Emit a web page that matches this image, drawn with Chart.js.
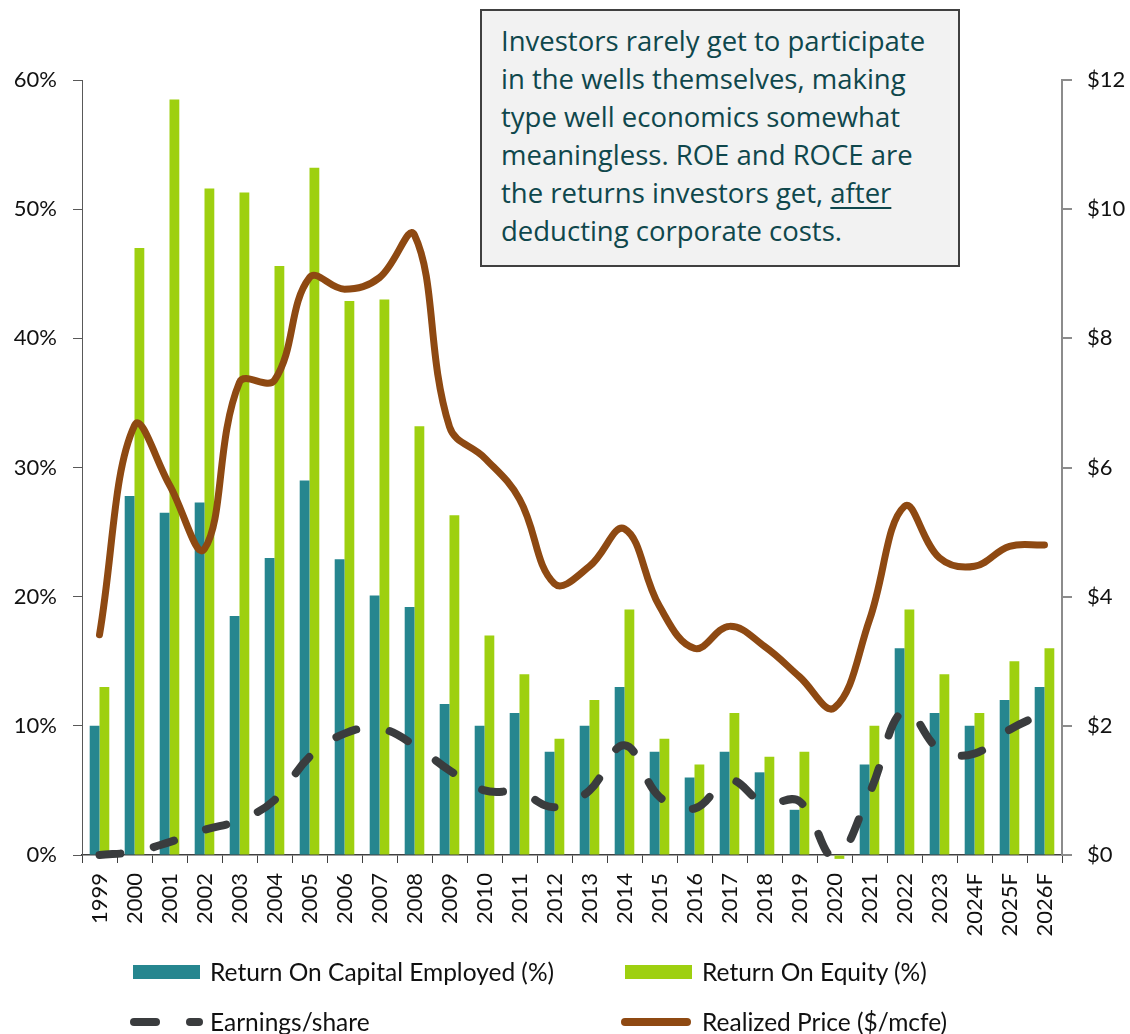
<!DOCTYPE html>
<html>
<head>
<meta charset="utf-8">
<script src="https://cdn.jsdelivr.net/npm/chart.js@4.4.1/dist/chart.umd.min.js"></script>
<style>
  body { margin: 0; background: #fff; }
  #wrap { position: relative; width: 1130px; height: 1034px; overflow: hidden; font-family: Lato, 'Noto Sans', sans-serif; }
  #chart { position: absolute; left: 0; top: 0; }
  .note {
    position: absolute; left: 480px; top: 9px; width: 476px; height: 254px;
    background: #f2f2f2; border: 2px solid #404040;
    color: #0f474c; font-family: 'Open Sans', sans-serif; font-size: 27.5px; line-height: 38px;
  }
  .note div { position: absolute; left: 19px; top: 11px; white-space: nowrap; }
  .note u { text-decoration-thickness: 2px; text-underline-offset: 4px; }
  .leg { position: absolute; font-size: 24.5px; color: #111; white-space: nowrap; line-height: 28px; }
  .leg svg { position: absolute; }
</style>
</head>
<body>
<div id="wrap">
  <canvas id="chart" width="1130" height="1034"></canvas>
  <div class="note"><div>Investors rarely get to participate<br>in the wells themselves, making<br>type well economics somewhat<br>meaningless. ROE and ROCE are<br>the returns investors get, <u>after</u><br>deducting corporate costs.</div></div>
  <div id="legend"></div>
</div>
<script>
const years = ['1999', '2000', '2001', '2002', '2003', '2004', '2005', '2006', '2007', '2008', '2009', '2010', '2011', '2012',
  '2013', '2014', '2015', '2016', '2017', '2018', '2019', '2020', '2021', '2022', '2023', '2024F', '2025F', '2026F'];

// left axis, %
const roce = [10, 27.8, 26.5, 27.3, 18.5, 23, 29, 22.9, 20.1, 19.2, 11.7, 10, 11, 8,
  10, 13, 8, 6, 8, 6.4, 3.5, 0, 7, 16, 11, 10, 12, 13];
const roe = [13, 47, 58.5, 51.6, 51.3, 45.6, 53.2, 42.9, 43, 33.2, 26.3, 17, 14, 9,
  12, 19, 9, 7, 11, 7.6, 8, -0.3, 10, 19, 14, 11, 15, 16];

// right axis, $
const eps = [0, 0.05, 0.2, 0.39, 0.54, 0.85, 1.52, 1.88, 1.96, 1.7, 1.31, 1.0, 0.97, 0.74,
  1.0, 1.7, 0.9, 0.72, 1.16, 0.8, 0.83, -0.03, 0.96, 2.25, 1.63, 1.57, 1.94, 2.2];
const price = [3.41, 6.65, 5.73, 4.74, 7.32, 7.35, 8.94, 8.76, 8.94, 9.6, 6.63, 6.15, 5.51, 4.2,
  4.47, 5.05, 3.85, 3.2, 3.54, 3.23, 2.76, 2.28, 3.64, 5.4, 4.6, 4.47, 4.78, 4.8];

const pctTicks = [0, 10, 20, 30, 40, 50, 60];
const dollarTicks = [0, 2, 4, 6, 8, 10, 12];

const COL = { roce: '#26868f', roe: '#9ed010', eps: '#3a3c3e', price: '#8e4912' };
const tickFont = { family: 'Lato', size: 22 };

new Chart(document.getElementById('chart'), {
  data: {
    labels: years,
    datasets: [
      {
        type: 'line', label: 'Earnings/share', data: eps, yAxisID: 'y1', order: 0,
        borderColor: COL.eps, borderWidth: 8, borderDash: [21, 34], borderCapStyle: 'round',
        tension: 0.4, pointRadius: 0, clip: false
      },
      {
        type: 'line', label: 'Realized Price ($/mcfe)', data: price, yAxisID: 'y1', order: 1,
        borderColor: COL.price, borderWidth: 7, borderCapStyle: 'round',
        tension: 0.4, pointRadius: 0, clip: false
      },
      {
        type: 'bar', label: 'Return On Capital Employed (%)', data: roce, yAxisID: 'y', order: 2,
        backgroundColor: COL.roce, categoryPercentage: 0.56, barPercentage: 1
      },
      {
        type: 'bar', label: 'Return On Equity (%)', data: roe, yAxisID: 'y', order: 2,
        backgroundColor: COL.roe, categoryPercentage: 0.56, barPercentage: 1, clip: false
      }
    ]
  },
  options: {
    responsive: false,
    animation: false,
    layout: { padding: { top: 80, bottom: 89, left: 0, right: 0 } },
    plugins: { legend: { display: false }, tooltip: { enabled: false } },
    scales: {
      x: {
        offset: true,
        grid: { drawOnChartArea: false, tickLength: 8, color: '#404040', offset: true },
        border: { color: '#404040', width: 1.5 },
        ticks: { color: '#111', font: tickFont, minRotation: 90, maxRotation: 90, padding: 10, autoSkip: false },
        afterFit: (s) => { s.height = 90; }
      },
      y: {
        position: 'left', min: 0, max: 60,
        afterBuildTicks: (s) => { s.ticks = pctTicks.map(v => ({ value: v })); },
        grid: { drawOnChartArea: false, tickLength: 9, color: '#595959' },
        border: { color: '#595959', width: 1 },
        ticks: { color: '#111', font: tickFont, padding: 16, callback: (v) => v + '%' },
        afterFit: (s) => { s.width = 82; }
      },
      y1: {
        position: 'right', min: 0, max: 12,
        afterBuildTicks: (s) => { s.ticks = dollarTicks.map(v => ({ value: v })); },
        grid: { drawOnChartArea: false, tickLength: 10, color: '#8c8c8c', lineWidth: 2 },
        border: { color: '#8c8c8c', width: 2 },
        ticks: { color: '#111', font: tickFont, padding: 15, callback: (v) => '$' + v },
        afterFit: (s) => { s.width = 68; }
      }
    }
  }
});

// legend, two columns x two rows
const legItems = [
  { text: 'Return On Capital Employed (%)', x: 133, y: 972, kind: 'box', color: COL.roce },
  { text: 'Return On Equity (%)', x: 625, y: 972, kind: 'box', color: COL.roe },
  { text: 'Earnings/share', x: 133, y: 1022, kind: 'dash', color: COL.eps },
  { text: 'Realized Price ($/mcfe)', x: 625, y: 1022, kind: 'line', color: COL.price }
];
const legEl = document.getElementById('legend');
legItems.forEach(it => {
  let mark = '';
  if (it.kind === 'box') {
    mark = `<rect x="10" y="6" width="67" height="14" fill="${it.color}"/>`;
  } else if (it.kind === 'dash') {
    mark = `<line x1="11" y1="13" x2="33" y2="13" stroke="${it.color}" stroke-width="8" stroke-linecap="round"/>` +
           `<line x1="67" y1="13" x2="76" y2="13" stroke="${it.color}" stroke-width="8" stroke-linecap="round"/>`;
  } else {
    mark = `<line x1="10" y1="13" x2="72" y2="13" stroke="${it.color}" stroke-width="8" stroke-linecap="round"/>`;
  }
  const d = document.createElement('div');
  d.className = 'leg';
  d.style.left = it.x + 'px';
  d.style.top = (it.y - 14) + 'px';
  d.innerHTML = `<svg width="84" height="26" style="left:-10px;top:1px">${mark}</svg><span style="position:absolute;left:77px;top:0">${it.text}</span>`;
  legEl.appendChild(d);
});
</script>
</body>
</html>
